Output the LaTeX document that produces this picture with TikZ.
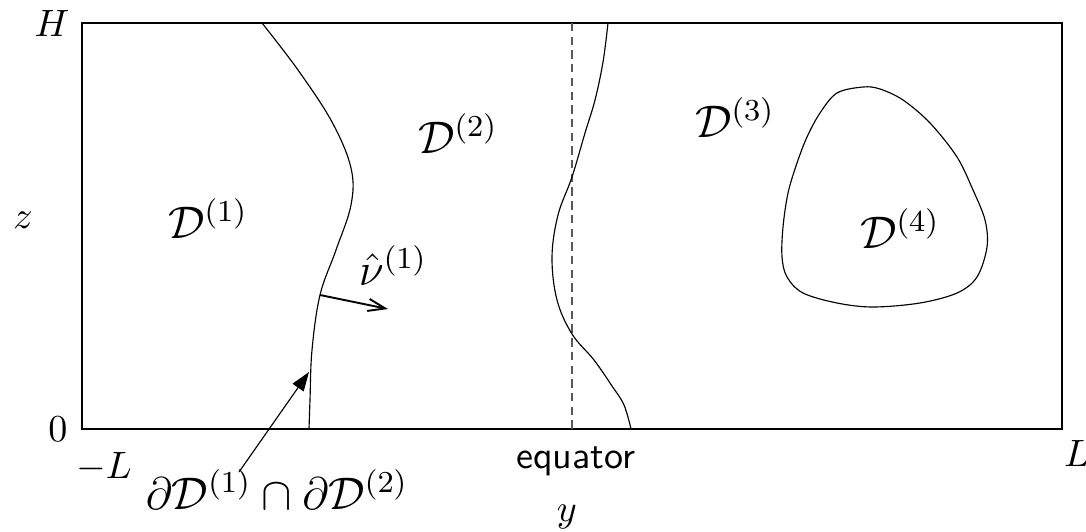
\documentclass[tikz,border=0pt]{standalone}
\usetikzlibrary{arrows.meta}
\begin{document}
\begin{tikzpicture}[x=0.2627pt,y=-0.2627pt,
  frame/.style={line width=0.55pt},
  bdry/.style={line width=0.3pt},
  lab/.style={inner sep=0pt,anchor=base},
  biglab/.style={lab,font=\large},
  eqline/.style={line width=0.35pt,gray!70!black,dash pattern=on 2.2pt off 1.4pt}]
\useasboundingbox (0,0) rectangle (1086,531);
% domain frame
\draw[frame] (82,23) rectangle (1062,429);
% equator
\coordinate (eqtop) at (572,23);
\coordinate (eqbot) at (572,429);
\draw[eqline] (eqtop) -- (eqbot);
% interface D1/D2
\draw[bdry] plot[smooth,tension=0.6] coordinates {(262,23) (298,70) (332,122) (351,168) (351,205) (336,250) (320,295) (312,350) (310,400) (309,429)};
% interface D2/D3
\draw[bdry] plot[smooth,tension=0.6] coordinates {(608,23) (603,62) (595,100) (585,133) (572,177) (558,215) (552,257) (557,300) (572,334) (594,360) (612,386) (624,405) (631,429)};
% inclusion D4
\draw[bdry] plot[smooth cycle,tension=0.55] coordinates {(863,87) (880,89) (903,100) (930,123) (957,157) (973,190) (985,220) (987,247) (977,277) (957,293) (920,303) (873,307) (837,303) (803,293) (787,277) (782,257) (783,227) (788,193) (797,163) (807,137) (820,113) (837,93)};
% labels
\node[lab] (H) at (52,36) {$H$};
\node[lab] (zero) at (58,441) {$0$};
\node[lab] (mL) at (104,478) {$-L$};
\node[lab] (pL) at (1077,466) {$L$};
\node[lab] (z) at (23,228) {$z$};
\node[lab] (y) at (567,521) {$y$};
\node[lab] (eq) at (576,468) {\sffamily equator};
\node[biglab] (D1) at (208,238) {$\mathcal{D}^{(1)}$};
\node[biglab] (D2) at (458,153) {$\mathcal{D}^{(2)}$};
\node[biglab] (D3) at (735,137) {$\mathcal{D}^{(3)}$};
\node[biglab] (D4) at (900,248) {$\mathcal{D}^{(4)}$};
\node[biglab] (nu) at (393,285) {$\hat{\nu}^{(1)}$};
\node[biglab] (int) at (277,509) {$\partial\mathcal{D}^{(1)}\cap\partial\mathcal{D}^{(2)}$};
% normal vector
\coordinate (nustart) at (320,295);
\coordinate (nuend) at (388,309);
\draw[line width=0.5pt,-{Straight Barb[length=4.5pt,width=3.2pt]}] (nustart) -- (nuend);
% pointer to interface
\coordinate (ptrstart) at (239,472);
\coordinate (ptrend) at (309,372);
\draw[line width=0.3pt,-{Triangle[length=5pt,width=3.5pt]}] (ptrstart) -- (ptrend);
\end{tikzpicture}
\end{document}
